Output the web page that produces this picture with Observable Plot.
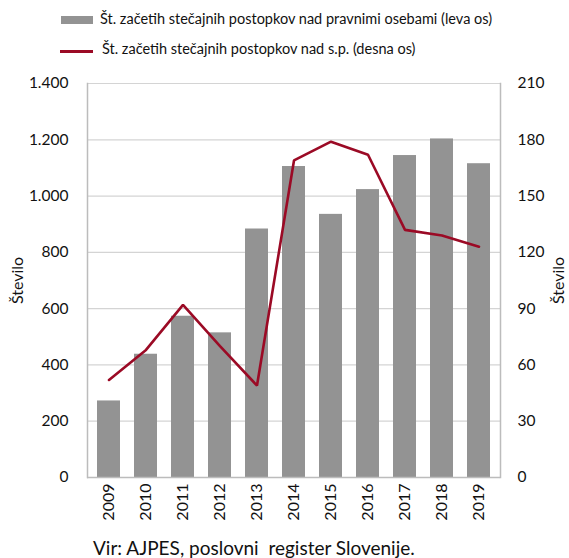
<!DOCTYPE html>
<html>
<head>
<meta charset="utf-8">
<script src="https://cdn.jsdelivr.net/npm/d3@7"></script>
<script src="https://cdn.jsdelivr.net/npm/@observablehq/plot@0.6"></script>
<style>
  body { margin: 0; background: #fff; font-family: Lato, "Open Sans", sans-serif; }
  #wrap { position: relative; width: 569px; height: 558px; overflow: hidden; }
  .leg { position: absolute; font-size: 14.5px; color: #111; white-space: nowrap; }
  .sw { position: absolute; }
  #chart { position: absolute; left: 0; top: 70px; }
  #cap { position: absolute; left: 93px; top: 537px; font-size: 19px; line-height: 1.2; color: #111; white-space: pre; }
</style>
</head>
<body>
<div id="wrap">
  <div class="sw" style="left:61px;top:16px;width:32px;height:8px;background:#939393"></div>
  <div class="leg" style="left:100px;top:10px">Št. začetih stečajnih postopkov nad pravnimi osebami (leva os)</div>
  <div class="sw" style="left:60px;top:50px;width:33px;height:2.5px;background:#9b0a25"></div>
  <div class="leg" style="left:102px;top:40px">Št. začetih stečajnih postopkov nad s.p. (desna os)</div>
  <div id="chart"></div>
  <div id="cap">Vir: AJPES, poslovni  register Slovenije.</div>
</div>
<script>
const years = ["2009","2010","2011","2012","2013","2014","2015","2016","2017","2018","2019"];
const legalEntities = [272, 438, 573, 514, 883, 1105, 935, 1023, 1144, 1203, 1115];
const soleProprietors = [52, 68, 92, 70, 49, 169, 179, 172, 132, 129, 123];
const leftTicks = [0, 200, 400, 600, 800, 1000, 1200, 1400];
const rightTicks = [0, 30, 60, 90, 120, 150, 180, 210];
const leftMax = 1400, rightMax = 210;
const k = leftMax / rightMax;

const fmt = d3.formatLocale({decimal: ",", thousands: ".", grouping: [3], currency: ["", ""]}).format(",");

const bars = years.map((y, i) => ({year: y, value: legalEntities[i]}));
const line = years.map((y, i) => ({year: y, value: soleProprietors[i] * k}));

const chart = Plot.plot({
  width: 569,
  height: 460,
  marginLeft: 87,
  marginRight: 69,
  marginTop: 13,
  marginBottom: 53,
  style: {fontFamily: "Lato, 'Open Sans', sans-serif", fontSize: "15.5px", color: "#111", background: "#fff"},
  x: {domain: years, paddingInner: 0.38, paddingOuter: 0.19, label: null},
  y: {domain: [0, leftMax], label: null},
  marks: [
    Plot.ruleY(leftTicks, {stroke: "#d4d4d4", strokeWidth: 1.2}),
    Plot.barY(bars, {x: "year", y: "value", fill: "#939393"}),
    Plot.line(line, {x: "year", y: "value", stroke: "#9b0a25", strokeWidth: 2.6, strokeLinejoin: "miter"}),
    Plot.frame({anchor: "left", stroke: "#bcbcbc", strokeWidth: 1.5}),
    Plot.frame({anchor: "right", stroke: "#bcbcbc", strokeWidth: 1.5}),
    Plot.ruleY([0], {stroke: "#bcbcbc", strokeWidth: 1.5}),
    Plot.axisY(leftTicks, {anchor: "left", tickSize: 0, tickPadding: 19, tickFormat: fmt, label: null}),
    Plot.axisY(rightTicks.map(v => v * k), {anchor: "right", tickSize: 0, tickPadding: 17, tickFormat: d => String(Math.round(d / k)), label: null}),
    Plot.axisX({tickSize: 0, tickPadding: 6, tickRotate: -90, label: null, fontSize: 16}),
    Plot.text(["Število"], {frameAnchor: "left", textAnchor: "middle", rotate: -90, dx: -70, fontSize: 16}),
    Plot.text(["Število"], {frameAnchor: "right", textAnchor: "middle", rotate: -90, dx: 58, fontSize: 16})
  ]
});
document.getElementById("chart").appendChild(chart);
</script>
</body>
</html>
